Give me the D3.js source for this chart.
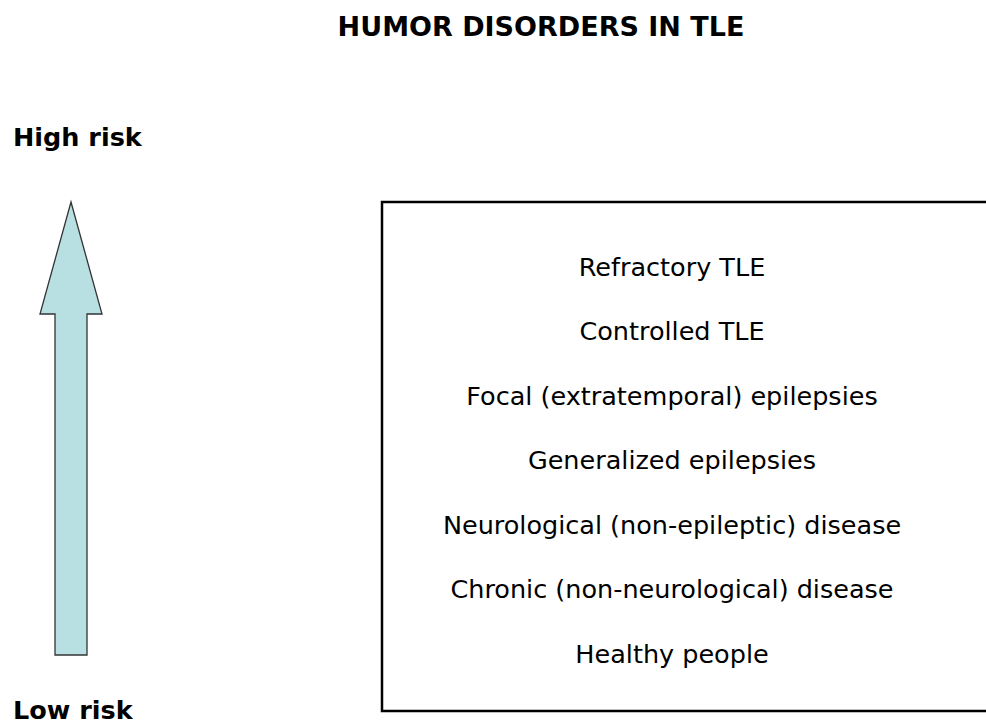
<!DOCTYPE html>
<html>
<head>
<meta charset="utf-8">
<script src="https://cdn.jsdelivr.net/npm/d3@7"></script>
<style>
	body { margin: 0; background: #fff; }
	text { font-family: "DejaVu Sans", Verdana, sans-serif; fill: #000; }
</style>
</head>
<body>
<div id="chart"></div>
<script>

// groups ordered from highest to lowest risk of humor disorders
var groups = [
	"Refractory TLE",
	"Controlled TLE",
	"Focal (extratemporal) epilepsies",
	"Generalized epilepsies",
	"Neurological (non-epileptic) disease",
	"Chronic (non-neurological) disease",
	"Healthy people"
];

// risk labels at both ends of the arrow
var riskLabels = ["Low risk", "High risk"];
var riskRange = [0, 1];

var chartTitle = "HUMOR DISORDERS IN TLE";

var width = 986,
	height = 724;

var svg = d3.select("#chart")
	.append("svg")
	.attr("width", width)
	.attr("height", height);

// title
svg.append("text")
	.attr("x", 541)
	.attr("y", 36)
	.attr("text-anchor", "middle")
	.attr("font-weight", "bold")
	.attr("font-size", "27px")
	.text(chartTitle);

// risk scale for the arrow
var riskscale = d3.scaleLinear()
	.domain(riskRange)
	.range([655, 202]);

var arrowx = 71,
	headhalf = 31,
	shafthalf = 16,
	headlength = 112;

var arrowpath = d3.path();
var tipy = riskscale(riskRange[1]),
	basey = riskscale(riskRange[0]);
arrowpath.moveTo(arrowx, tipy);
arrowpath.lineTo(arrowx + headhalf, tipy + headlength);
arrowpath.lineTo(arrowx + shafthalf, tipy + headlength);
arrowpath.lineTo(arrowx + shafthalf, basey);
arrowpath.lineTo(arrowx - shafthalf, basey);
arrowpath.lineTo(arrowx - shafthalf, tipy + headlength);
arrowpath.lineTo(arrowx - headhalf, tipy + headlength);
arrowpath.closePath();

svg.append("path")
	.attr("d", arrowpath.toString())
	.attr("fill", "#b8dfe2")
	.attr("stroke", "#333")
	.attr("stroke-width", 1.3);

// risk labels
svg.selectAll(".risklabel")
	.data(riskLabels)
	.enter()
	.append("text")
	.attr("class", "risklabel")
	.attr("x", 13)
	.attr("y", function(d, i){

		return i == 0 ? 719 : 146;
	})
	.attr("font-weight", "bold")
	.attr("font-size", "25.5px")
	.text(function(d){

		return d;
	});

// box with the groups, open on the right side
svg.append("path")
	.attr("d", "M986,202H382V711H986")
	.attr("fill", "none")
	.attr("stroke", "#000")
	.attr("stroke-width", 2.5);

var yscale = d3.scalePoint()
	.domain(groups)
	.range([267, 654]);

svg.selectAll(".group")
	.data(groups)
	.enter()
	.append("text")
	.attr("class", "group")
	.attr("x", 672)
	.attr("y", function(d){

		return yscale(d);
	})
	.attr("dy", "0.35em")
	.attr("text-anchor", "middle")
	.attr("font-size", "25.5px")
	.text(function(d){

		return d;
	});

</script>
</body>
</html>
